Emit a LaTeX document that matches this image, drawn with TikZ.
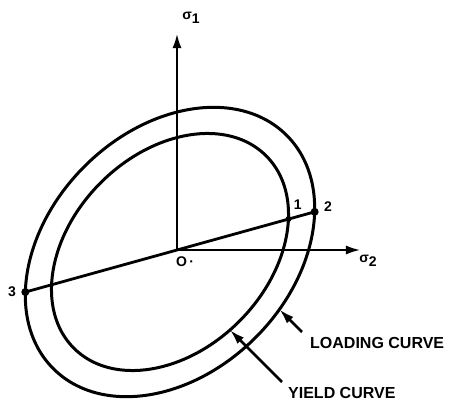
\documentclass[tikz,border=0pt]{standalone}
\usepackage{fontspec}
\setmainfont{Liberation Sans}
\usetikzlibrary{arrows.meta, positioning, calc, intersections}

\begin{document}
\begin{tikzpicture}[
    x=1pt, y=1pt,
    curve/.style={line width=3pt, black},
    axis/.style={line width=2.8pt, -{Latex[length=15pt, width=9pt]}},
    ptr/.style={line width=2.6pt, -{Latex[length=15pt, width=9pt]}},
    lbl/.style={font=\fontsize{16}{18}\selectfont\bfseries, inner sep=0pt},
    num/.style={font=\fontsize{14}{16}\selectfont\bfseries, inner sep=1pt},
    dot/.style={circle, fill=black, inner sep=0pt, minimum size=8pt},
]
\useasboundingbox (-177,-158) rectangle (274,250);

\coordinate (O) at (0,0);
\coordinate (C) at (-7,-2);

% curves
\draw[curve, name path=outer, rotate around={45:(C)}] (C) ellipse [x radius=165, y radius=121];
\draw[curve, name path=inner, rotate around={45:(C)}] (C) ellipse [x radius=136, y radius=98];

% axes
\draw[axis] (O) -- (0,217) coordinate (s1);
\draw[axis] (O) -- (184,0) coordinate (s2);
\node[num] at (14,232) {σ\raisebox{-4pt}{1}};
\node[num] at (191,-11) {σ\raisebox{-4pt}{2}};
\node[num, below right=6pt and -2pt of O] (olbl) {O\,·};

% load path
\path[name path=ray] (195.5:200) -- (15.5:200);
\path[name intersections={of=ray and outer, by={p3,p2}}];
\path[name intersections={of=ray and inner, by={q3,p1}}];
\draw[line width=2.8pt] (p3) -- (p2);
\node[dot] (n2) at (p2) {};
\node[dot] (n3) at (p3) {};
\node[dot, minimum size=6pt] (n1) at (p1) {};
\node[num, above right=6pt and 2pt of n1] {1};
\node[num, right=4pt of n2, yshift=5pt] {2};
\node[num, left=4pt of n3] {3};

% labels
\node[lbl, anchor=west] (load) at (133,-93) {LOADING CURVE};
\node[lbl, anchor=west] (yield) at (111,-143) {YIELD CURVE};
\coordinate (ldtail) at ($(load.west)+(-8,11)$);
\coordinate (yltail) at ($(yield.west)+(-6,11)$);
\path[name path=ldray] (ldtail) -- ++(135:50);
\path[name path=ylray] (yltail) -- ++(135:90);
\path[name intersections={of=ldray and outer, by={ldtip}}];
\path[name intersections={of=ylray and inner, by={yltip}}];

% Arrows
\draw[ptr] (ldtail) -- (ldtip);
\draw[ptr] (yltail) -- (yltip);

\end{tikzpicture}
\end{document}
